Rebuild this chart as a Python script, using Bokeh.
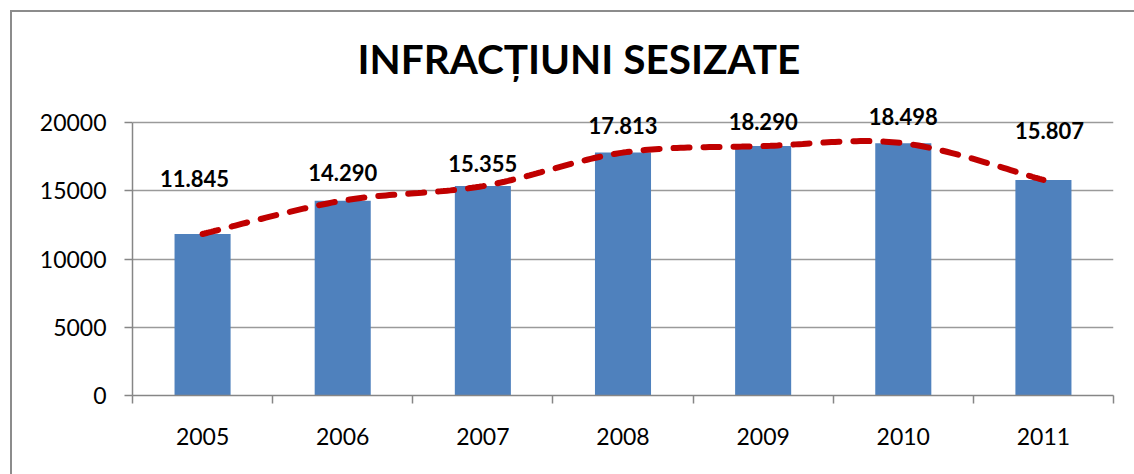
import numpy as np
from bokeh.plotting import figure
from bokeh.models import Range1d, FixedTicker, ColumnDataSource, LabelSet, InlineStyleSheet
from bokeh.core.properties import value
from bokeh.embed import file_html
from bokeh.resources import INLINE

# ---- data ----
years = ["2005", "2006", "2007", "2008", "2009", "2010", "2011"]
values = [11845, 14290, 15355, 17813, 18290, 18498, 15807]
y_ticks = [0, 5000, 10000, 15000, 20000]
title_text = "INFRACȚIUNI SESIZATE"

# label placement (style only, screen px)
label_dx = [-8, 0, 0, 0, 0, 0, 6]
label_dy = [55, 28, 23, 27, 25, 27, 49]

FONT = "Lato"
GRAY = "#868686"

xs = list(range(len(years)))

p = figure(width=1134, height=474, output_backend="svg", toolbar_location=None,
           x_range=Range1d(-0.5, len(years) - 0.5), y_range=Range1d(0, 22000),
           min_border_left=132, min_border_right=21, min_border_top=95,
           min_border_bottom=79)
border_css = ("background-color: white; "
              "background-image: linear-gradient(#8c8c8c, #8c8c8c), linear-gradient(#8c8c8c, #8c8c8c); "
              "background-position: 10px 10px, 10px 10px; "
              "background-size: 2px 100%, 100% 2px; background-repeat: no-repeat;")
p.stylesheets = [InlineStyleSheet(css=":host { " + border_css + " }")]
p.outline_line_color = None
p.background_fill_color = "white"
p.border_fill_color = None

# title
p.title.text = title_text
p.title.align = "left"
p.title.offset = 225
p.title.standoff = 26
p.title.text_font = FONT
p.title.text_font_style = "bold"
p.title.text_font_size = "40.5px"
p.title.text_color = "black"

# bars
p.vbar(x=xs, top=values, width=0.4, fill_color="#4F81BD", line_color=None)

# smooth dashed line (Catmull-Rom through the data points)
px = np.array(xs, dtype=float)
py = np.array(values, dtype=float)
ext_x = np.concatenate([[px[0]], px, [px[-1]]])
ext_y = np.concatenate([[py[0]], py, [py[-1]]])
cx, cy = [], []
t = np.linspace(0, 1, 40)
for i in range(len(px) - 1):
    p0x, p1x, p2x, p3x = ext_x[i], ext_x[i + 1], ext_x[i + 2], ext_x[i + 3]
    p0y, p1y, p2y, p3y = ext_y[i], ext_y[i + 1], ext_y[i + 2], ext_y[i + 3]
    c1x, c1y = p1x + (p2x - p0x) / 6, p1y + (p2y - p0y) / 6
    c2x, c2y = p2x - (p3x - p1x) / 6, p2y - (p3y - p1y) / 6
    bx = (1 - t) ** 3 * p1x + 3 * (1 - t) ** 2 * t * c1x + 3 * (1 - t) * t ** 2 * c2x + t ** 3 * p2x
    by = (1 - t) ** 3 * p1y + 3 * (1 - t) ** 2 * t * c1y + 3 * (1 - t) * t ** 2 * c2y + t ** 3 * p2y
    if i > 0:
        bx, by = bx[1:], by[1:]
    cx.extend(bx.tolist())
    cy.extend(by.tolist())
p.line(cx, cy, line_color="#C00000", line_width=6, line_dash="16 14", line_cap="round")

# data labels
labels = [f"{v:,}".replace(",", ".") for v in values]
src = ColumnDataSource(dict(x=xs, y=values, text=labels, dx=label_dx, dy=label_dy))
p.add_layout(LabelSet(x="x", y="y", text="text", x_offset="dx", y_offset="dy", source=src,
                      text_align="center", text_baseline="middle",
                      text_font=value(FONT), text_font_style="bold",
                      text_font_size="22px", text_color="black"))

# axes
p.yaxis.bounds = (0, 20000)
p.yaxis.ticker = FixedTicker(ticks=y_ticks)
p.yaxis.major_label_overrides = {t_: str(t_) for t_ in y_ticks}
p.yaxis.axis_line_color = GRAY
p.yaxis.axis_line_width = 1.5
p.yaxis.major_tick_line_color = GRAY
p.yaxis.major_tick_line_width = 1.5
p.yaxis.major_tick_out = 8
p.yaxis.major_tick_in = 0
p.yaxis.minor_tick_line_color = None
p.yaxis.major_label_standoff = 18
p.yaxis.major_label_text_font = FONT
p.yaxis.major_label_text_font_size = "23px"
p.yaxis.major_label_text_color = "black"

p.xaxis.ticker = FixedTicker(ticks=xs, minor_ticks=[i - 0.5 for i in range(len(years) + 1)])
p.xaxis.major_label_overrides = {i: y for i, y in enumerate(years)}
p.xaxis.axis_line_color = GRAY
p.xaxis.axis_line_width = 1.5
p.xaxis.major_tick_line_color = None
p.xaxis.major_tick_out = 0
p.xaxis.major_tick_in = 0
p.xaxis.minor_tick_line_color = GRAY
p.xaxis.minor_tick_line_width = 1.5
p.xaxis.minor_tick_out = 8
p.xaxis.minor_tick_in = 0
p.xaxis.major_label_standoff = 24
p.xaxis.major_label_text_font = FONT
p.xaxis.major_label_text_font_size = "23px"
p.xaxis.major_label_text_color = "black"

p.xgrid.visible = False
p.ygrid.ticker = FixedTicker(ticks=y_ticks)
p.ygrid.grid_line_color = "#9a9a9a"
p.ygrid.grid_line_width = 1.5

open("out.html", "w").write(file_html(p, INLINE))
